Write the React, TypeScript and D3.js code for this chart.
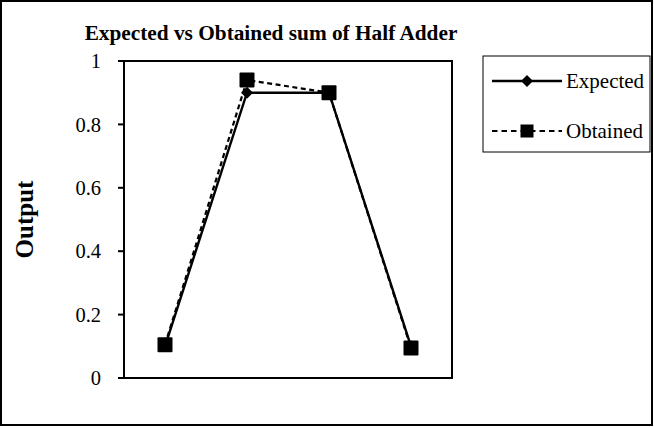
import React from "react";
import * as d3 from "d3";

// Half adder input combinations (A B) along the x axis
const inputs = ["00", "01", "10", "11"];
// Sum output values
const expected = [0.1, 0.9, 0.9, 0.1];
const obtained = [0.105, 0.94, 0.9, 0.095];
const yTicks = [0, 0.2, 0.4, 0.6, 0.8, 1];
const yTickLabels = ["0", "0.2", "0.4", "0.6", "0.8", "1"];
const seriesNames = ["Expected", "Obtained"];

const W = 654;
const H = 428;
const plot = { left: 124, right: 452, top: 61, bottom: 378 };
const FONT = "'Times New Roman', 'Liberation Serif', serif";

function diamondPath(r: number) {
  const p = d3.path();
  p.moveTo(0, -r);
  p.lineTo(r, 0);
  p.lineTo(0, r);
  p.lineTo(-r, 0);
  p.closePath();
  return p.toString();
}

export default function App() {
  const x = d3.scaleBand<string>().domain(inputs).range([plot.left, plot.right]);
  const cx = (c: string) => (x(c) as number) + x.bandwidth() / 2;
  const y = d3.scaleLinear().domain([0, 1]).range([plot.bottom, plot.top]);

  const line = d3
    .line<number>()
    .x((_, i) => cx(inputs[i]))
    .y((d) => y(d));

  const diamond = diamondPath(6);
  const sq = 15;

  const legendX = 483;
  const legendY = 56;
  const legendRows = [81, 131];

  return (
    <svg
      width={W}
      height={H}
      style={{ position: "absolute", left: 0, top: 0, background: "#fff" }}
      fontFamily={FONT}
    >
      <rect x={1} y={1} width={651} height={424} fill="#fff" stroke="#000" strokeWidth={2} />

      <text x={271} y={40} textAnchor="middle" fontSize={21.3} fontWeight="bold">
        Expected vs Obtained sum of Half Adder
      </text>

      {/* plot frame */}
      <rect
        x={plot.left}
        y={plot.top}
        width={plot.right - plot.left}
        height={plot.bottom - plot.top}
        fill="none"
        stroke="#000"
        strokeWidth={2}
      />

      {/* y axis ticks */}
      {yTicks.map((t, i) => (
        <g key={t}>
          <line x1={plot.left - 6} x2={plot.left} y1={y(t)} y2={y(t)} stroke="#000" strokeWidth={2} />
          <text x={101} y={y(t)} dy="0.35em" textAnchor="end" fontSize={20.5}>
            {yTickLabels[i]}
          </text>
        </g>
      ))}

      <text
        transform={`translate(33, ${(plot.top + plot.bottom) / 2}) rotate(-90)`}
        textAnchor="middle"
        fontSize={25}
        fontWeight="bold"
      >
        Output
      </text>

      {/* Expected series */}
      <path d={line(expected) as string} fill="none" stroke="#000" strokeWidth={2.4} />
      {expected.map((v, i) => (
        <path key={i} d={diamond} transform={`translate(${cx(inputs[i])},${y(v)})`} fill="#000" />
      ))}

      {/* Obtained series */}
      <path
        d={line(obtained) as string}
        fill="none"
        stroke="#000"
        strokeWidth={2.2}
        strokeDasharray="5,3.5"
      />
      {obtained.map((v, i) => (
        <rect
          key={i}
          x={cx(inputs[i]) - sq / 2}
          y={y(v) - sq / 2}
          width={sq}
          height={sq}
          rx={1}
          fill="#000"
        />
      ))}

      {/* legend */}
      <rect x={legendX} y={legendY} width={167} height={96} fill="#fff" stroke="#000" strokeWidth={1} />
      <line x1={492} x2={562} y1={legendRows[0]} y2={legendRows[0]} stroke="#000" strokeWidth={2.4} />
      <path d={diamond} transform={`translate(527,${legendRows[0]})`} fill="#000" />
      <text x={566} y={legendRows[0]} dy="0.35em" fontSize={21}>
        {seriesNames[0]}
      </text>
      <line
        x1={492}
        x2={562}
        y1={legendRows[1]}
        y2={legendRows[1]}
        stroke="#000"
        strokeWidth={2.2}
        strokeDasharray="5.5,4"
      />
      <rect x={527 - 6.5} y={legendRows[1] - 6.5} width={13} height={13} fill="#000" />
      <text x={566} y={legendRows[1]} dy="0.35em" fontSize={21}>
        {seriesNames[1]}
      </text>
    </svg>
  );
}
